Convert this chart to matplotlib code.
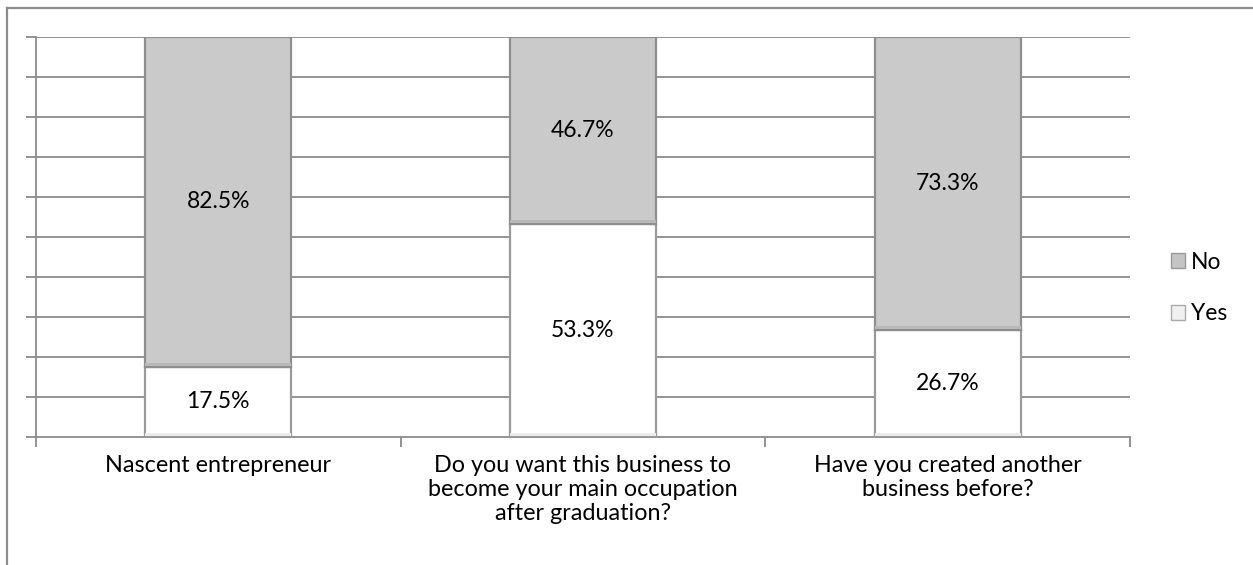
import matplotlib.pyplot as plt
from matplotlib.patches import Rectangle
from matplotlib.lines import Line2D
import numpy as np

plt.rcParams['font.family'] = ['Lato', 'DejaVu Sans']

categories = [
    'Nascent entrepreneur',
    'Do you want this business to\nbecome your main occupation\nafter graduation?',
    'Have you created another\nbusiness before?',
]
yes_share = [17.5, 53.3, 26.7]
no_share = [82.5, 46.7, 73.3]

W, H = 1253, 565
fig = plt.figure(figsize=(W / 100, H / 100), dpi=100)

# chart frame (only top and left edges fall inside the image)
fig.add_artist(Line2D([7 / W, 1.0], [1 - 8 / H, 1 - 8 / H], color='#8c8c8c', lw=1.6))
fig.add_artist(Line2D([7 / W, 7 / W], [0, 1 - 8 / H], color='#8c8c8c', lw=1.6))

ax = fig.add_axes([36 / W, 1 - 437 / H, (1130 - 36) / W, 400 / H])
x = np.arange(len(categories))
width = 0.4

grid_c = '#8a8a8a'
for y in range(10, 101, 10):
    ax.axhline(y, color=grid_c, lw=1.3, zorder=0)

ax.bar(x, yes_share, width, color='white', edgecolor='#9a9a9a', lw=1.6,
       label='Yes', zorder=3)
ax.bar(x, no_share, width, bottom=yes_share, color='#cacaca',
       edgecolor='#8e8e8e', lw=1.6, label='No', zorder=3)

# soft bevel shading along the lower edge of each segment
for xi, ys in zip(x, yes_share):
    ax.add_patch(Rectangle((xi - width / 2, 0.2), width, 0.9, color='#ececec', zorder=3.5, lw=0))
    ax.add_patch(Rectangle((xi - width / 2, ys + 0.2), width, 0.8, color='#b8b8b8', zorder=3.5, lw=0))

for xi, ys, ns in zip(x, yes_share, no_share):
    ax.text(xi, ys / 2, f'{ys:.1f}%', ha='center', va='center', fontsize=16.5, zorder=5)
    ax.text(xi, ys + ns / 2, f'{ns:.1f}%', ha='center', va='center', fontsize=16.5, zorder=5)

ax.set_xlim(-0.5, len(categories) - 0.5)
ax.set_ylim(0, 100)
for s in ['top', 'right']:
    ax.spines[s].set_visible(False)
ax.spines['left'].set_color(grid_c)
ax.spines['bottom'].set_color(grid_c)
ax.spines['left'].set_linewidth(1.3)
ax.spines['bottom'].set_linewidth(1.3)

ax.set_yticks(range(0, 101, 10))
ax.set_yticklabels([])
ax.tick_params(axis='y', length=7, color=grid_c, width=1.3)

ax.set_xticks([-0.5, 0.5, 1.5, 2.5])
ax.set_xticklabels([])
ax.tick_params(axis='x', length=7, color=grid_c, width=1.3, direction='out')
for xi, lab in zip(x, categories):
    ax.text(xi, -4.5, lab, ha='center', va='top', fontsize=16.8, linespacing=1.18)

handles = [Rectangle((0, 0), 1, 1, fc='#c4c4c4', ec='#9a9a9a', lw=1),
           Rectangle((0, 0), 1, 1, fc='#f0f0f0', ec='#aaaaaa', lw=1)]
fig.legend(handles, ['No', 'Yes'], loc='center left',
           bbox_to_anchor=(1160 / W, 1 - 288 / H), frameon=False,
           fontsize=16.5, handlelength=0.6, handleheight=0.6,
           handletextpad=0.25, labelspacing=1.35, borderpad=0)

fig.savefig('out.png', dpi=100)
